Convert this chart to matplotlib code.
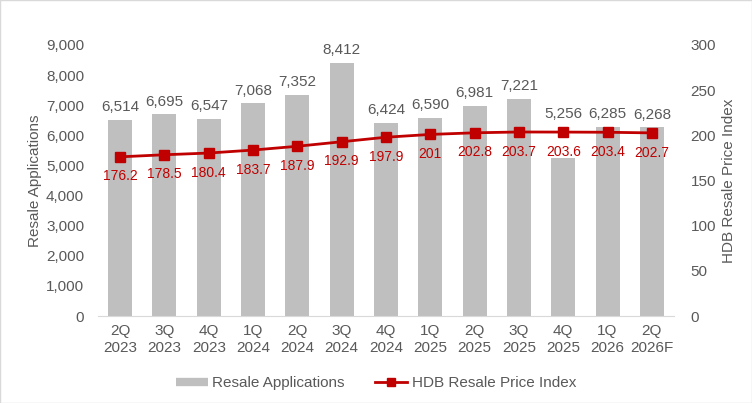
import matplotlib.pyplot as plt
from matplotlib.lines import Line2D
import numpy as np

plt.rcParams['font.family'] = ['Liberation Sans', 'DejaVu Sans']

quarters = ['2Q\n2023', '3Q\n2023', '4Q\n2023', '1Q\n2024', '2Q\n2024', '3Q\n2024', '4Q\n2024',
            '1Q\n2025', '2Q\n2025', '3Q\n2025', '4Q\n2025', '1Q\n2026', '2Q\n2026F']
applications = [6514, 6695, 6547, 7068, 7352, 8412, 6424, 6590, 6981, 7221, 5256, 6285, 6268]
rpi = [176.2, 178.5, 180.4, 183.7, 187.9, 192.9, 197.9, 201, 202.8, 203.7, 203.6, 203.4, 202.7]

grey = '#595959'
red = '#C00000'

fig = plt.figure(figsize=(7.52, 4.03), dpi=100)
ax = fig.add_axes([98/752, 1 - 316/403, 576/752, 271/403])
x = np.arange(len(quarters))

ax.bar(x, applications, width=0.54, color='#BFBFBF', zorder=2)
ax.set_ylim(0, 9000)
ax.set_xlim(-0.5, len(quarters) - 0.5)
ax.set_yticks(range(0, 9001, 1000))
ax.set_yticklabels([f'{v:,}' for v in range(0, 9001, 1000)])
ax.set_xticks(x)
ax.set_xticklabels(quarters)
ax.set_ylabel('Resale Applications', color=grey, fontsize=11, labelpad=3)

# the 4Q 2025 label sits at the level of its neighbour so it clears the line
label_y = list(applications)
label_y[10] = applications[11]
for v, ly, xi in zip(applications, label_y, x):
    ax.text(xi, ly + 180, f'{v:,}', ha='center', va='bottom', fontsize=11, color=grey)

ax2 = ax.twinx()
ax2.plot(x, rpi, color=red, marker='s', markersize=7, linewidth=2, zorder=3)
ax2.set_ylim(0, 300)
ax2.set_yticks(range(0, 301, 50))
ax2.set_ylabel('HDB Resale Price Index', color=grey, fontsize=11, labelpad=4)
for v, xi in zip(rpi, x):
    ax2.text(xi, v - 14, f'{v:g}', ha='center', va='top', fontsize=10, color=red)

for a in (ax, ax2):
    for s in ['top', 'right', 'left']:
        a.spines[s].set_visible(False)
    a.spines['bottom'].set_color('#D9D9D9')
    a.tick_params(length=0, labelsize=11, labelcolor=grey, pad=6)
ax2.spines['bottom'].set_visible(False)
ax.tick_params(axis='y', pad=10)
ax2.tick_params(axis='y', pad=12)

handles = [Line2D([], [], color='#BFBFBF', linewidth=6, solid_capstyle='butt'),
           Line2D([], [], color=red, linewidth=2, marker='s', markersize=6)]
fig.legend(handles, ['Resale Applications', 'HDB Resale Price Index'], loc='center',
           bbox_to_anchor=(0.5, 1 - 383/403), ncol=2, frameon=False, fontsize=11,
           labelcolor=grey, handlelength=2.1, handletextpad=0.3, columnspacing=2.0)

fig.patches.append(plt.Rectangle((0, 0), 1, 1, transform=fig.transFigure, fill=False,
                                 edgecolor='#D9D9D9', linewidth=1))
fig.savefig('out.png', dpi=100)
